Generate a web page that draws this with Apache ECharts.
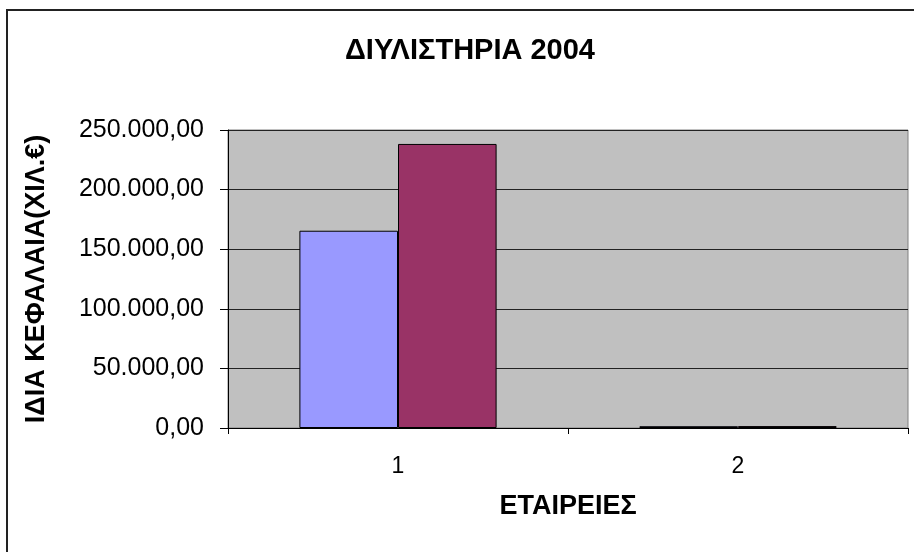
<!DOCTYPE html>
<html>
<head>
<meta charset="utf-8">
<script src="https://cdn.jsdelivr.net/npm/echarts@6/dist/echarts.min.js"></script>
<style>
html,body{margin:0;padding:0;background:#fff;}
#chart{width:914px;height:552px;}
</style>
</head>
<body>
<div id="chart"></div>
<script>
const titleText = 'ΔΙΥΛΙΣΤΗΡΙΑ 2004';
const categories = ['1', '2'];
const seriesA = [165500, 1500];
const seriesB = [238300, 1600];
const yTicks = { min: 0, max: 250000, interval: 50000 };
const yAxisName = 'ΙΔΙΑ ΚΕΦΑΛΑΙΑ(ΧΙΛ.€)';
const xAxisName = 'ΕΤΑΙΡΕΙΕΣ';

function fmt(v) {
  const s = Math.round(v).toString().replace(/\B(?=(\d{3})+(?!\d))/g, '.');
  return s + ',00';
}

const chart = echarts.init(document.getElementById('chart'), null, { renderer: 'canvas' });
chart.setOption({
  animation: false,
  backgroundColor: '#fff',
  textStyle: { fontFamily: 'Liberation Sans, Arial, sans-serif' },
  title: {
    text: titleText,
    left: 465,
    top: 31,
    textAlign: 'center',
    textStyle: { fontSize: 29, fontWeight: 'bold', color: '#000', fontFamily: 'Liberation Sans, Arial, sans-serif' }
  },
  graphic: [{
    type: 'rect',
    silent: true,
    shape: { x: 7, y: 10, width: 1200, height: 1200 },
    style: { fill: null, stroke: '#222', lineWidth: 2 }
  }],
  grid: {
    left: 228, right: 6, top: 130, bottom: 124,
    show: true, backgroundColor: '#C0C0C0', borderColor: '#808080', borderWidth: 1
  },
  xAxis: {
    type: 'category',
    data: categories,
    name: xAxisName,
    nameLocation: 'middle',
    nameGap: 65,
    nameTextStyle: { fontSize: 27, fontWeight: 'bold', color: '#000' },
    axisLine: { show: true, lineStyle: { color: '#000', width: 1 } },
    axisTick: { show: true, length: 6, lineStyle: { color: '#000' } },
    axisLabel: { fontSize: 23, color: '#000', margin: 27 },
    splitLine: { show: false }
  },
  yAxis: {
    type: 'value',
    min: yTicks.min, max: yTicks.max, interval: yTicks.interval,
    name: yAxisName,
    nameLocation: 'middle',
    nameGap: 178,
    nameTextStyle: { fontSize: 27, fontWeight: 'bold', color: '#000' },
    axisLine: { show: true, lineStyle: { color: '#000', width: 1 } },
    axisTick: { show: true, length: 8, lineStyle: { color: '#000' } },
    axisLabel: { fontSize: 25, color: '#000', margin: 24, formatter: fmt },
    splitLine: { show: true, lineStyle: { color: '#222', width: 1 } }
  },
  series: [
    {
      type: 'bar', data: seriesA, barGap: '0%', barCategoryGap: '42%',
      itemStyle: { color: '#9999FF', borderColor: '#000', borderWidth: 1 }
    },
    {
      type: 'bar', data: seriesB, barGap: '0%', barCategoryGap: '42%',
      itemStyle: { color: '#993366', borderColor: '#000', borderWidth: 1 }
    }
  ]
});
</script>
</body>
</html>
